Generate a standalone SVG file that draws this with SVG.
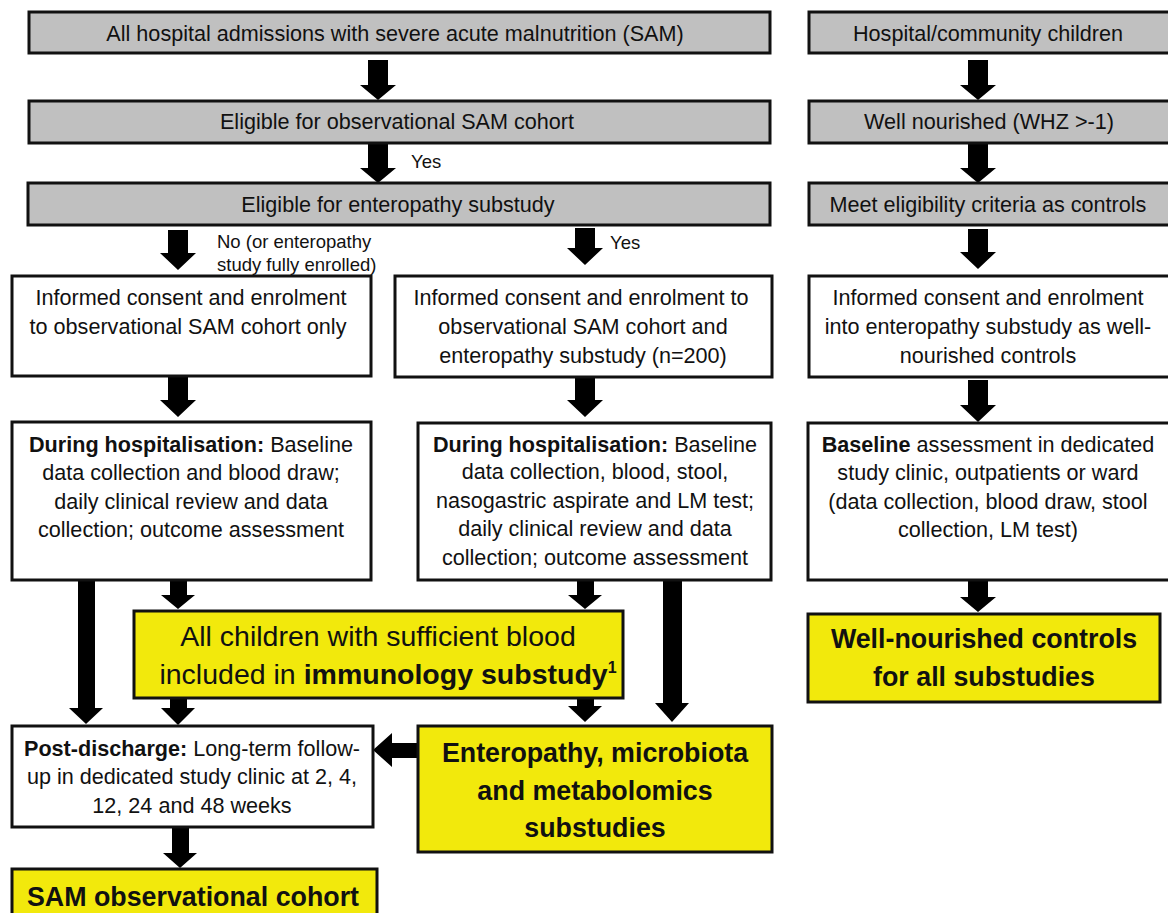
<svg xmlns="http://www.w3.org/2000/svg" width="1168" height="913" viewBox="0 0 1168 913">
<style>
.box{stroke:#111;stroke-width:3}
.gray{fill:#c0c0c0}
.white{fill:#fff}
.yellow{fill:#f2e90c}
.arrow{fill:#000}
text{font-family:"Liberation Sans",Arial,sans-serif;fill:#111;text-anchor:middle}
.t{font-size:21.6px}
.s{font-size:18.5px;text-anchor:start}
.big{font-size:28.5px}
.bb{font-size:26.8px;font-weight:bold}
.b{font-weight:bold}
</style>
<rect width="1168" height="913" fill="#fff"/>
<g id="connectors">
<polygon class="arrow" points="368,60 388,60 388,85 396,85 378,100 360,85 368,85"/>
<polygon class="arrow" points="368,143 388,143 388,168 396,168 378,183 360,168 368,168"/>
<polygon class="arrow" points="968,60 988,60 988,85 996,85 978,100 960,85 968,85"/>
<polygon class="arrow" points="968,143 988,143 988,168 996,168 978,183 960,168 968,168"/>
<polygon class="arrow" points="968,229 988,229 988,252 996,252 978,269 960,252 968,252"/>
<polygon class="arrow" points="968,380 988,380 988,405 996,405 978,422 960,405 968,405"/>
<polygon class="arrow" points="968,580 988,580 988,597 996,597 978,612 960,597 968,597"/>
<polygon class="arrow" points="168,230 188,230 188,253 196,253 178,270 160,253 168,253"/>
<polygon class="arrow" points="575,228 595,228 595,248 603,248 585,265 567,248 575,248"/>
<polygon class="arrow" points="168,377 188,377 188,400 196,400 178,417 160,400 168,400"/>
<polygon class="arrow" points="575,377 595,377 595,400 603,400 585,417 567,400 575,400"/>
<polygon class="arrow" points="170,580 187,580 187,595 195,595 178,609 161,595 170,595"/>
<polygon class="arrow" points="577,580 594,580 594,595 602,595 585,609 568,595 577,595"/>
<polygon class="arrow" points="78,580 95,580 95,708 103,708 86,724 69,708 78,708"/>
<polygon class="arrow" points="663,580 682,580 682,703 689,703 672,722 655,703 663,703"/>
<polygon class="arrow" points="170,698 187,698 187,708 195,708 178,725 161,708 170,708"/>
<polygon class="arrow" points="577,698 594,698 594,706 602,706 585,722 568,706 577,706"/>
<polygon class="arrow" points="420,743 392,743 392,733 373,750 392,767 392,758 420,758"/>
<polygon class="arrow" points="172,827 189,827 189,853 197,853 180,868 163,853 172,853"/>
</g>
<g id="labels">
<text class="s" x="411" y="168">Yes</text>
<text class="s" x="217" y="248">No (or enteropathy</text>
<text class="s" x="217" y="271">study fully enrolled)</text>
<text class="s" x="610" y="249">Yes</text>
</g>
<g id="n1"><rect class="box gray" x="29" y="12" width="741" height="41"/><text class="t" x="395" y="41">All hospital admissions with severe acute malnutrition (SAM)</text></g>
<g id="n2"><rect class="box gray" x="29" y="101" width="741" height="42"/><text class="t" x="397" y="129">Eligible for observational SAM cohort</text></g>
<g id="n3"><rect class="box gray" x="28" y="183" width="742" height="42"/><text class="t" x="398" y="212">Eligible for enteropathy substudy</text></g>
<g id="r1"><rect class="box gray" x="809" y="12" width="365" height="41"/><text class="t" x="988" y="41">Hospital/community children</text></g>
<g id="r2"><rect class="box gray" x="809" y="101" width="365" height="42"/><text class="t" x="989" y="129">Well nourished (WHZ &gt;-1)</text></g>
<g id="r3"><rect class="box gray" x="809" y="183" width="365" height="42"/><text class="t" x="988" y="212">Meet eligibility criteria as controls</text></g>
<g id="n4"><rect class="box white" x="12" y="276" width="359" height="100"/>
<text class="t" x="191" y="305">Informed consent and enrolment</text>
<text class="t" x="188" y="334">to observational SAM cohort only</text></g>
<g id="n5"><rect class="box white" x="395" y="276" width="377" height="101"/>
<text class="t" x="581" y="305">Informed consent and enrolment to</text>
<text class="t" x="583" y="334">observational SAM cohort and</text>
<text class="t" x="583" y="363">enteropathy substudy (n=200)</text></g>
<g id="r4"><rect class="box white" x="809" y="276" width="365" height="101"/>
<text class="t" x="988" y="305">Informed consent and enrolment</text>
<text class="t" x="988" y="334">into enteropathy substudy as well-</text>
<text class="t" x="988" y="363">nourished controls</text></g>
<g id="n6"><rect class="box white" x="12" y="422" width="359" height="158"/>
<text class="t" x="191" y="452"><tspan class="b">During hospitalisation:</tspan>  Baseline</text>
<text class="t" x="191" y="480">data collection and blood draw;</text>
<text class="t" x="191" y="509">daily clinical review and data</text>
<text class="t" x="191" y="537">collection; outcome assessment</text></g>
<g id="n7"><rect class="box white" x="418" y="423" width="353" height="157"/>
<text class="t" x="595" y="452"><tspan class="b">During hospitalisation:</tspan>  Baseline</text>
<text class="t" x="595" y="479">data collection, blood, stool,</text>
<text class="t" x="595" y="508">nasogastric aspirate and LM test;</text>
<text class="t" x="595" y="536">daily clinical review and data</text>
<text class="t" x="595" y="565">collection; outcome assessment</text></g>
<g id="r5"><rect class="box white" x="808" y="423" width="366" height="157"/>
<text class="t" x="988" y="452"><tspan class="b">Baseline</tspan> assessment in dedicated</text>
<text class="t" x="988" y="480">study clinic, outpatients or ward</text>
<text class="t" x="988" y="509">(data collection, blood draw, stool</text>
<text class="t" x="988" y="537">collection, LM test)</text></g>
<g id="n8"><rect class="box yellow" x="134" y="611" width="489" height="87"/>
<text class="big" x="378" y="646">All children with sufficient blood</text>
<text class="big" x="388" y="684">included in <tspan class="b">immunology substudy<tspan font-size="16" dy="-11">1</tspan></tspan></text></g>
<g id="r6"><rect class="box yellow" x="808" y="614" width="352" height="88"/>
<text class="bb" x="984" y="648">Well-nourished controls</text>
<text class="bb" x="984" y="686">for all substudies</text></g>
<g id="n9"><rect class="box white" x="12" y="726" width="361" height="101"/>
<text class="t" x="192" y="756"><tspan class="b">Post-discharge:</tspan>  Long-term follow-</text>
<text class="t" x="192" y="784">up in dedicated study clinic at 2, 4,</text>
<text class="t" x="192" y="813">12, 24 and 48 weeks</text></g>
<g id="n10"><rect class="box yellow" x="418" y="726" width="354" height="126"/>
<text class="bb" x="595" y="762">Enteropathy, microbiota</text>
<text class="bb" x="595" y="800">and metabolomics</text>
<text class="bb" x="595" y="837">substudies</text></g>
<g id="n11"><rect class="box yellow" x="12" y="869" width="365" height="60"/>
<text class="bb" x="193" y="906">SAM observational cohort</text></g>
</svg>
